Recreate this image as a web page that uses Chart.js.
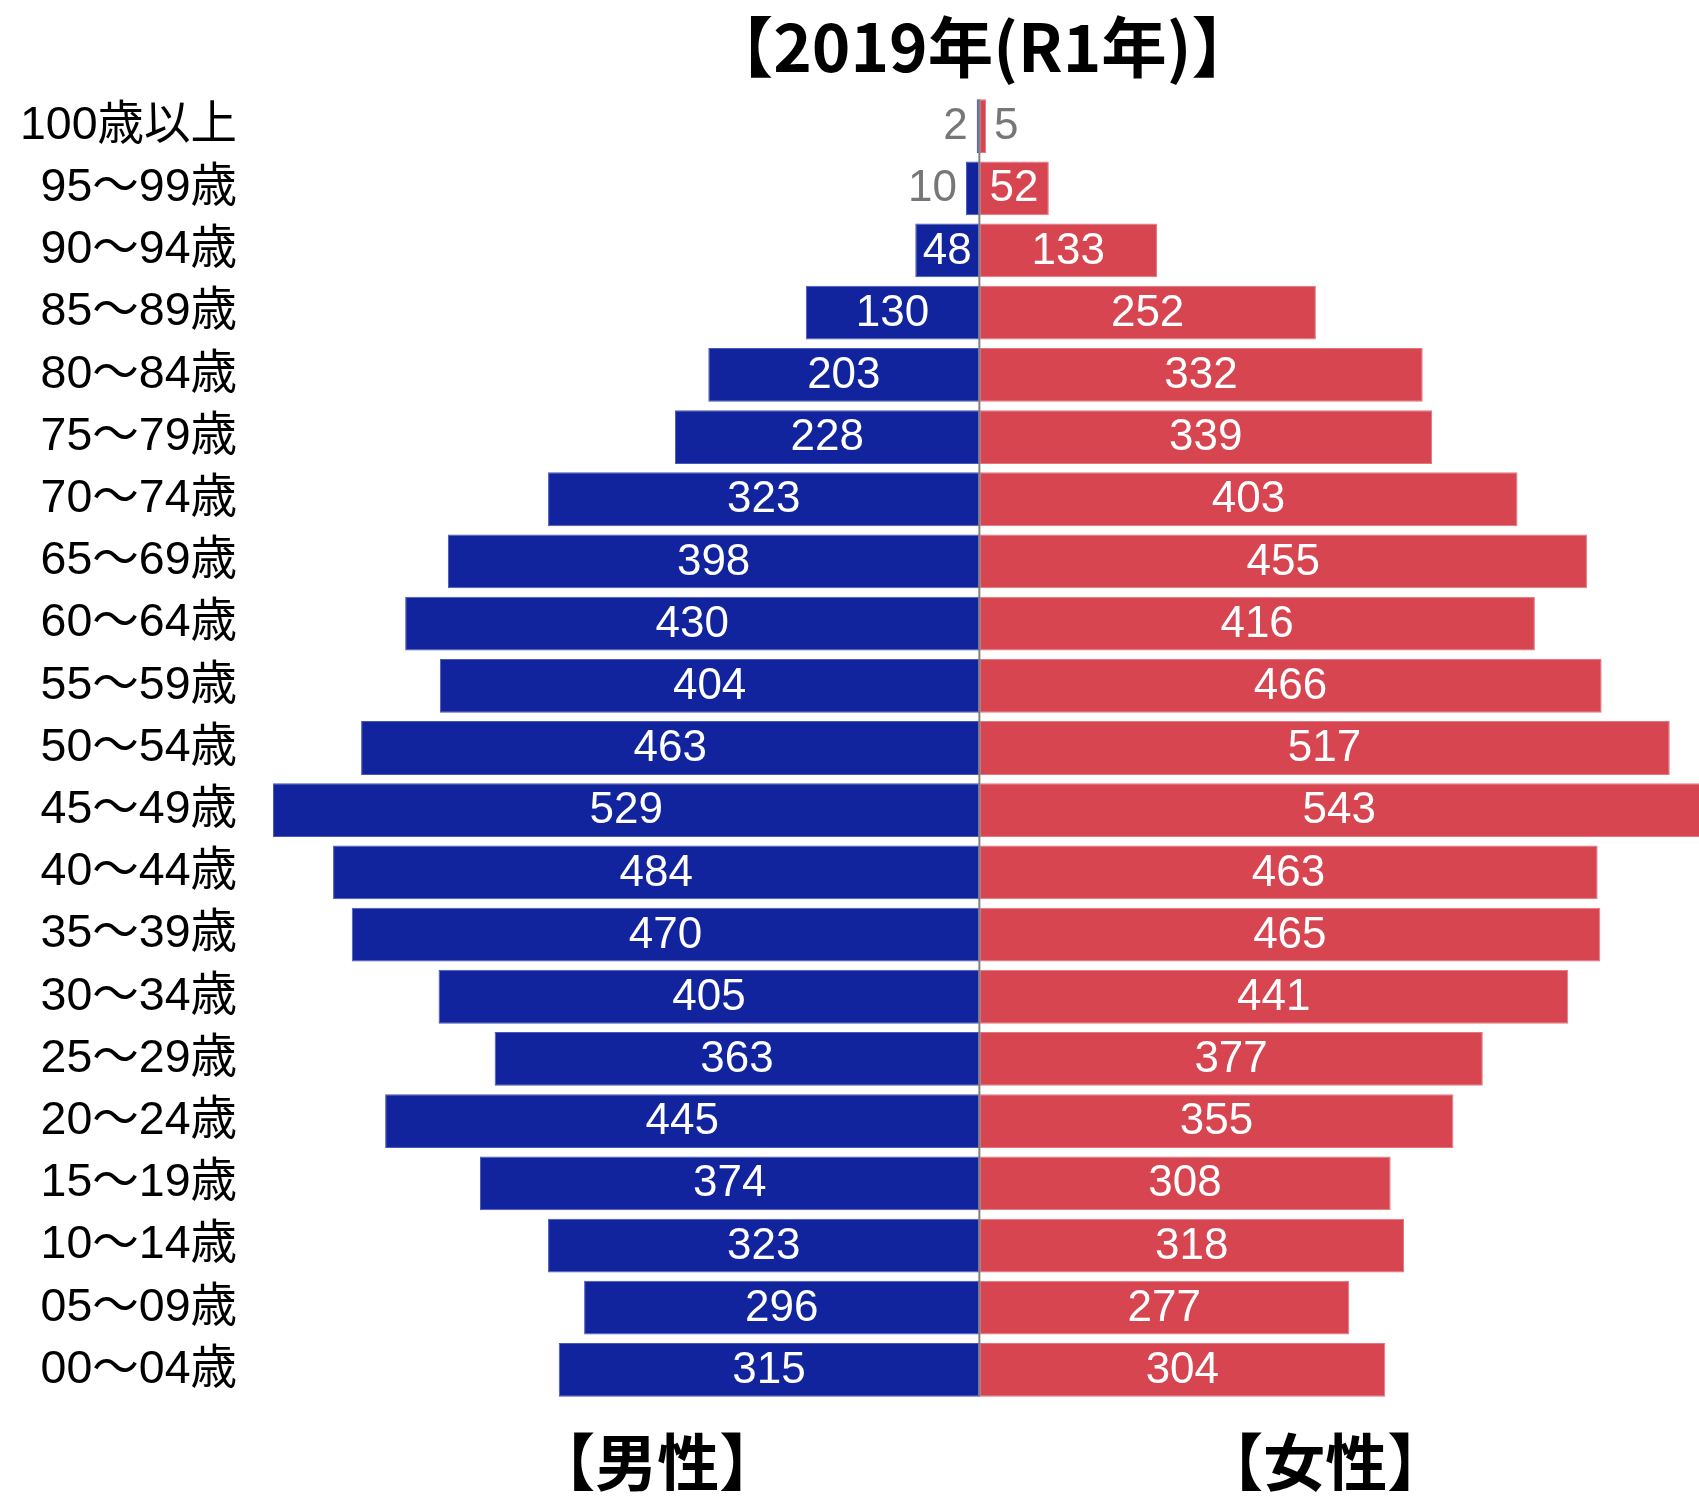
<!DOCTYPE html>
<html>
<head>
<meta charset="utf-8">
<script src="https://cdn.jsdelivr.net/npm/chart.js@4/dist/chart.umd.min.js"></script>
<style>
  html, body { margin: 0; padding: 0; background: #fff; }
  #wrap { width: 1699px; height: 1496px; position: relative; }
</style>
</head>
<body>
<div id="wrap"><canvas id="c"></canvas></div>
<script>
const categories = ['100歳以上','95～99歳','90～94歳','85～89歳','80～84歳','75～79歳','70～74歳','65～69歳','60～64歳','55～59歳','50～54歳','45～49歳','40～44歳','35～39歳','30～34歳','25～29歳','20～24歳','15～19歳','10～14歳','05～09歳','00～04歳'];
const male   = [2, 10, 48, 130, 203, 228, 323, 398, 430, 404, 463, 529, 484, 470, 405, 363, 445, 374, 323, 296, 315];
const female = [5, 52, 133, 252, 332, 339, 403, 455, 416, 466, 517, 543, 463, 465, 441, 377, 355, 308, 318, 277, 304];
const titleText = '【2019年(R1年)】';
const maleLabel = '【男性】';
const femaleLabel = '【女性】';

const BLUE = '#12239E', RED = '#D64550';
const labelFont = '44px "Liberation Sans", Arial, "Noto Sans CJK JP", sans-serif';
const boldFont = 'bold 65.5px "Noto Sans CJK JP", "Liberation Sans", sans-serif';
const boldFont2 = 'bold 62px "Noto Sans CJK JP", "Liberation Sans", sans-serif';

const overlay = {
  id: 'overlay',
  afterDatasetsDraw(chart) {
    const ctx = chart.ctx;
    const xs = chart.scales.x;
    const zero = xs.getPixelForValue(0);
    const m0 = chart.getDatasetMeta(0).data;
    const top = m0[0].y - m0[0].height / 2;
    const bot = m0[m0.length - 1].y + m0[m0.length - 1].height / 2;
    ctx.save();
    ctx.strokeStyle = '#808080';
    ctx.lineWidth = 2;
    ctx.beginPath();
    ctx.moveTo(zero, top);
    ctx.lineTo(zero, bot);
    ctx.stroke();
    ctx.font = labelFont;
    ctx.textBaseline = 'middle';
    chart.data.datasets.forEach((ds, di) => {
      const meta = chart.getDatasetMeta(di);
      meta.data.forEach((el, i) => {
        const v = Math.abs(ds.data[i]);
        const txt = String(v);
        const tw = ctx.measureText(txt).width;
        const left = Math.min(el.x, el.base), right = Math.max(el.x, el.base);
        const clipRight = Math.min(right, chart.chartArea.right);
        const bw = clipRight - left;
        if (tw + 10 < bw) {
          ctx.fillStyle = '#ffffff';
          ctx.textAlign = 'center';
          ctx.fillText(txt, (left + clipRight) / 2, el.y + 1);
        } else {
          ctx.fillStyle = '#777777';
          if (di === 0) { ctx.textAlign = 'right'; ctx.fillText(txt, left - 9, el.y + 1); }
          else { ctx.textAlign = 'left'; ctx.fillText(txt, right + 8, el.y + 1); }
        }
      });
    });
    ctx.fillStyle = '#000';
    ctx.textAlign = 'center';
    ctx.font = boldFont;
    ctx.fillText(titleText, zero + 3, 47);
    ctx.font = boldFont2;
    ctx.fillText(maleLabel, zero - 322, 1462);
    ctx.fillText(femaleLabel, zero + 346, 1462);
    ctx.restore();
  }
};

new Chart(document.getElementById('c'), {
  type: 'bar',
  data: {
    labels: categories,
    datasets: [
      { label: '男性', data: male.map(v => -v), backgroundColor: BLUE, borderColor: '#4a56b8', borderWidth: 1, borderSkipped: false },
      { label: '女性', data: female, backgroundColor: RED, borderColor: '#e57680', borderWidth: 1, borderSkipped: false }
    ]
  },
  options: {
    indexAxis: 'y',
    responsive: true,
    maintainAspectRatio: false,
    animation: false,
    devicePixelRatio: 1,
    layout: { padding: { top: 95, bottom: 95, left: 0, right: 0 } },
    datasets: { bar: { categoryPercentage: 1, barPercentage: 0.865 } },
    plugins: { legend: { display: false }, title: { display: false }, tooltip: { enabled: false } },
    scales: {
      x: { stacked: true, display: false, min: -546.2, max: 538.9 },
      y: {
        stacked: true,
        grid: { display: false, drawTicks: false },
        border: { display: false },
        ticks: { color: '#000', padding: 13, font: { size: 46.5, family: '"Liberation Sans", Arial, "Noto Sans CJK JP", sans-serif' } },
        afterFit(scale) { scale.width = 250; }
      }
    }
  },
  plugins: [overlay]
});
</script>
</body>
</html>
